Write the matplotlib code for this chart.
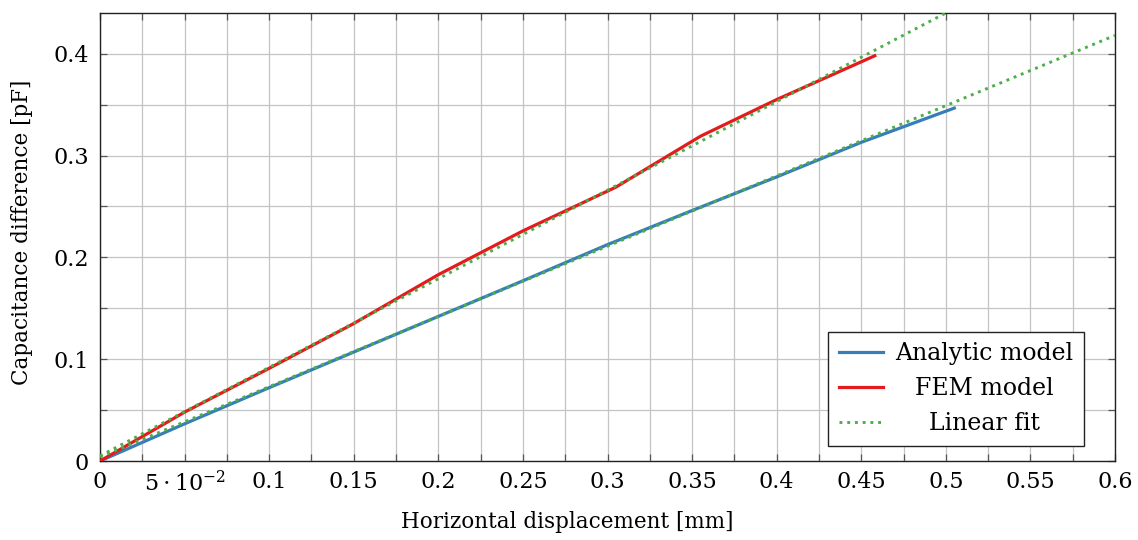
import matplotlib
matplotlib.use("Agg")
import matplotlib.pyplot as plt
from matplotlib.ticker import MultipleLocator, FixedLocator, FixedFormatter

# Capacitance difference vs. horizontal displacement
analytic_x = [0, 0.05, 0.1, 0.15, 0.2, 0.25, 0.3, 0.35, 0.4, 0.45, 0.505]
analytic_y = [0, 0.0365, 0.072, 0.107, 0.142, 0.177, 0.2125, 0.246, 0.279, 0.313, 0.3466]

fem_x = [0, 0.05, 0.1, 0.15, 0.2, 0.25, 0.305, 0.355, 0.4, 0.425, 0.458]
fem_y = [0, 0.048, 0.091, 0.135, 0.183, 0.226, 0.269, 0.319, 0.355, 0.3735, 0.398]

# linear fits, end points over the plotted range
fit_x = [0, 0.6]
fit_fem_y = [0.005, 0.527]
fit_analytic_y = [0.004, 0.418]

x_ticks = [0, 0.05, 0.1, 0.15, 0.2, 0.25, 0.3, 0.35, 0.4, 0.45, 0.5, 0.55, 0.6]
x_tick_labels = ["0", r"$5\cdot10^{-2}$", "0.1", "0.15", "0.2", "0.25", "0.3",
                 "0.35", "0.4", "0.45", "0.5", "0.55", "0.6"]
y_ticks = [0, 0.1, 0.2, 0.3, 0.4]
y_tick_labels = ["0", "0.1", "0.2", "0.3", "0.4"]

blue = "#377eb8"
red = "#e41a1c"
green = "#4daf4a"

plt.rcParams["font.family"] = ["DejaVu Serif"]
plt.rcParams["mathtext.fontset"] = "dejavuserif"

fig = plt.figure(figsize=(11.38, 5.40), dpi=100)
ax = fig.add_axes([100 / 1138, 79 / 540, 1015 / 1138, 448 / 540])

dots = (0, (1, 1.65))
ax.plot(analytic_x, analytic_y, color=blue, lw=2.3, label="Analytic model", zorder=3)
ax.plot(fem_x, fem_y, color=red, lw=2.3, label="FEM model", zorder=3)
ax.plot(fit_x, fit_fem_y, color=green, lw=2.1, linestyle=dots,
        label="Linear fit", zorder=4)
ax.plot(fit_x, fit_analytic_y, color=green, lw=2.1, linestyle=dots, zorder=4)

ax.set_xlim(0, 0.6)
ax.set_ylim(0, 0.44)

ax.xaxis.set_major_locator(FixedLocator(x_ticks))
ax.xaxis.set_major_formatter(FixedFormatter(x_tick_labels))
ax.xaxis.set_minor_locator(MultipleLocator(0.025))
ax.yaxis.set_major_locator(FixedLocator(y_ticks))
ax.yaxis.set_major_formatter(FixedFormatter(y_tick_labels))
ax.yaxis.set_minor_locator(MultipleLocator(0.05))

ax.grid(True, which="both", color="#c4c4c4", lw=0.9, zorder=0)
ax.set_axisbelow(True)

ax.tick_params(which="both", direction="in", top=True, right=True,
               length=5, width=0.9, color="#555555", labelsize=16)
ax.tick_params(axis="x", pad=7)
ax.tick_params(axis="y", pad=8)

for sp in ax.spines.values():
    sp.set_color("#222222")
    sp.set_linewidth(1.0)

ax.set_xlabel("Horizontal displacement [mm]", fontsize=15.5)
ax.set_ylabel("Capacitance difference [pF]", fontsize=15.5)
ax.xaxis.set_label_coords(0.46, -0.112)
ax.yaxis.set_label_coords(-0.066, 0.51)

leg = ax.legend(loc="lower right", bbox_to_anchor=(0.9695, 0.0335),
                fontsize=17, frameon=True, fancybox=False, framealpha=1,
                edgecolor="#222222", handlelength=1.9, handletextpad=0.5,
                labelspacing=0.51, borderpad=0.45, borderaxespad=0)
leg.get_frame().set_linewidth(1.0)

# centre the legend labels in their column
fig.canvas.draw()
renderer = fig.canvas.get_renderer()
widths = [t.get_window_extent(renderer).width for t in leg.get_texts()]
wmax = max(widths)
for t, w in zip(leg.get_texts(), widths):
    t.set_x((wmax - w) / 2)

fig.savefig("out.png", dpi=100)
